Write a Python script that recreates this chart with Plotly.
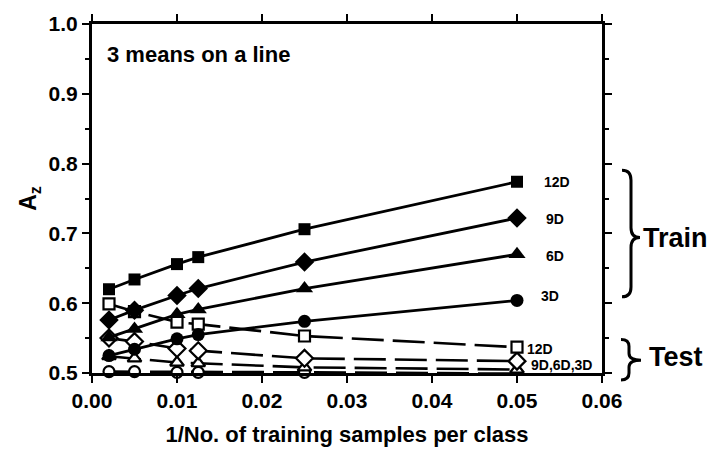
import plotly.graph_objects as go

# ---- data ----
x_vals = [0.002, 0.005, 0.01, 0.0125, 0.025, 0.05]

train_12d = [0.620, 0.634, 0.656, 0.666, 0.706, 0.774]
train_9d = [0.576, 0.590, 0.611, 0.621, 0.659, 0.722]
train_6d = [0.551, 0.563, 0.584, 0.591, 0.621, 0.670]
train_3d = [0.525, 0.534, 0.549, 0.555, 0.574, 0.604]

test_12d = [0.599, 0.588, 0.573, 0.570, 0.553, 0.537]
test_9d = [0.550, 0.545, 0.535, 0.532, 0.521, 0.517]
test_6d = [0.524, 0.521, 0.515, 0.514, 0.508, 0.505]
test_3d = [0.502, 0.502, 0.501, 0.501, 0.501, 0.499]

train_labels = ["12D", "9D", "6D", "3D"]
test_labels = ["12D", "9D,6D,3D"]

FONT = "Liberation Sans"

fig = go.Figure()

test_series = [(test_3d, "circle", 11), (test_6d, "triangle-up", 12),
               (test_9d, "diamond", 13), (test_12d, "square", 11)]
for ys, sym, sz in test_series:
    fig.add_trace(go.Scatter(
        x=x_vals, y=ys, mode="lines+markers",
        line=dict(color="black", width=2.6, dash="32px,9px"),
        marker=dict(symbol=sym, size=sz, color="white",
                    line=dict(color="black", width=2.2)),
        cliponaxis=False, showlegend=False))

train_series = [(train_3d, "circle", 13), (train_6d, "triangle-up", 15),
                (train_9d, "diamond", 15), (train_12d, "square", 12)]
for ys, sym, sz in train_series:
    fig.add_trace(go.Scatter(
        x=x_vals, y=ys, mode="lines+markers",
        line=dict(color="black", width=2.8),
        marker=dict(symbol=sym, size=sz, color="black"),
        cliponaxis=False, showlegend=False))

# plot-area pixel geometry for paper-coordinate conversion
L, R, T, B = 92, 602, 22, 375
W, H = 716, 456


def px(xp):
    return (xp - L) / (R - L)


def py(yp):
    return (B - yp) / (B - T)


def brace(x0, xm, xt, ytop, ybot, ymid, r=8):
    p = f"M {px(x0)},{py(ytop)} "
    p += f"Q {px(xm)},{py(ytop)} {px(xm)},{py(ytop + r)} "
    p += f"L {px(xm)},{py(ymid - r)} "
    p += f"Q {px(xm)},{py(ymid)} {px(xt)},{py(ymid)} "
    p += f"Q {px(xm)},{py(ymid)} {px(xm)},{py(ymid + r)} "
    p += f"L {px(xm)},{py(ybot - r)} "
    p += f"Q {px(xm)},{py(ybot)} {px(x0)},{py(ybot)}"
    return p


shapes = [
    dict(type="path", xref="paper", yref="paper",
         path=brace(622, 631, 640, 170, 298, 238, r=10),
         line=dict(color="black", width=3)),
    dict(type="path", xref="paper", yref="paper",
         path=brace(621, 629, 641, 341, 382, 362, r=7),
         line=dict(color="black", width=3)),
]

annotations = [
    dict(x=0.0015, y=0.957, xref="x", yref="y", text="3 means on a line",
         showarrow=False, xanchor="left", yanchor="middle",
         font=dict(family=FONT, size=22, color="black", weight="bold")),
]
train_pos = [(0.0547, 0.773), (0.0545, 0.721), (0.0545, 0.667), (0.0539, 0.610)]
for lab, (ax, ay) in zip(train_labels, train_pos):
    annotations.append(dict(x=ax, y=ay, xref="x", yref="y", text=lab, showarrow=False,
                            xanchor="center", yanchor="middle",
                            font=dict(family=FONT, size=14, color="black", weight="bold")))
test_pos = [(0.0509, 0.534), (0.0514, 0.511)]
for lab, (ax, ay) in zip(test_labels, test_pos):
    annotations.append(dict(x=ax, y=ay, xref="x", yref="y", text=lab, showarrow=False,
                            xanchor="left", yanchor="middle",
                            font=dict(family=FONT, size=14, color="black", weight="bold")))
annotations.append(dict(x=px(641), y=py(238), xref="paper", yref="paper", text="Train",
                        showarrow=False, xanchor="left", yanchor="middle",
                        font=dict(family=FONT, size=27, color="black", weight="bold")))
annotations.append(dict(x=px(647), y=py(359), xref="paper", yref="paper", text="Test",
                        showarrow=False, xanchor="left", yanchor="middle",
                        font=dict(family=FONT, size=27, color="black", weight="bold")))

fig.update_layout(
    width=W, height=H,
    margin=dict(l=L, r=W - R, t=T, b=H - B),
    paper_bgcolor="white", plot_bgcolor="white",
    font=dict(family=FONT, color="black", weight="bold"),
    shapes=shapes, annotations=annotations, showlegend=False,
)
fig.update_xaxes(
    range=[0, 0.06], dtick=0.01, tickformat=".2f",
    showgrid=False, zeroline=False,
    showline=True, linecolor="black", linewidth=3, mirror="ticks",
    ticks="outside", ticklen=7, tickwidth=2, tickcolor="black",
    tickfont=dict(family=FONT, size=21, color="black", weight="bold"),
    title=dict(text="1/No. of training samples per class", standoff=16,
               font=dict(family=FONT, size=22, color="black", weight="bold")),
)
fig.update_yaxes(
    range=[0.5, 1.0], dtick=0.1, tickformat=".1f",
    showgrid=False, zeroline=False,
    showline=True, linecolor="black", linewidth=3, mirror="ticks",
    ticks="outside", ticklen=7, tickwidth=2, tickcolor="black",
    minor=dict(dtick=0.05, ticks="outside", ticklen=4, tickwidth=2, tickcolor="black"),
    tickfont=dict(family=FONT, size=21, color="black", weight="bold"),
    title=dict(text="A<sub>z</sub>", standoff=6,
               font=dict(family=FONT, size=23, color="black", weight="bold")),
)

fig.write_html("out.html")
